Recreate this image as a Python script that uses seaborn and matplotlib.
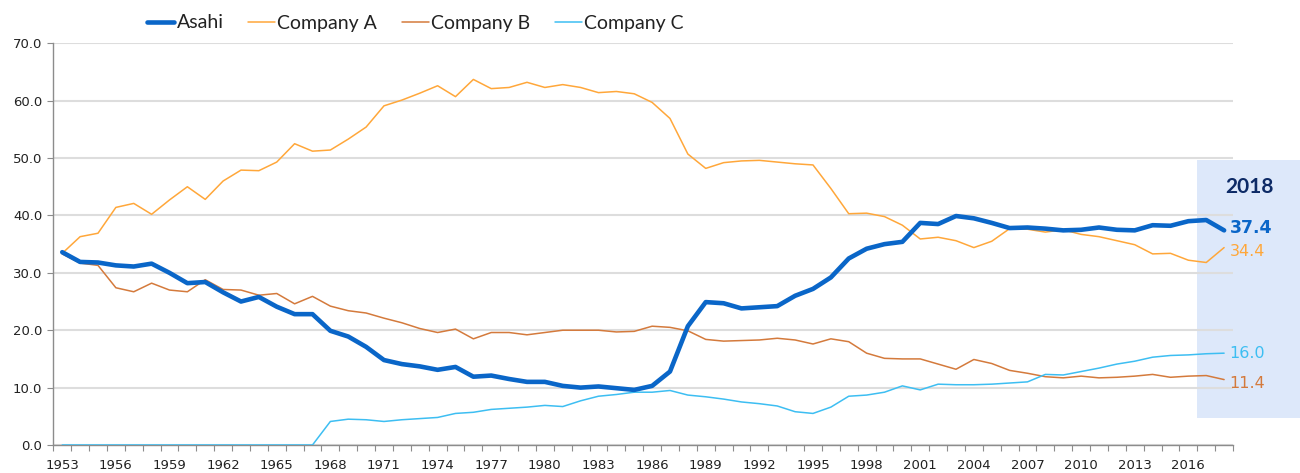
import matplotlib
matplotlib.use("Agg")
import matplotlib.pyplot as plt
from matplotlib.patches import Rectangle
from matplotlib.lines import Line2D
import seaborn as sns
import pandas as pd

years = list(range(1953, 2019))
tick_years = list(range(1953, 2017, 3))
y_ticks = [0, 10, 20, 30, 40, 50, 60, 70]

asahi = [33.6, 31.9, 31.8, 31.3, 31.1, 31.6, 30.0, 28.2, 28.4, 26.6,
         25.0, 25.8, 24.1, 22.8, 22.8, 19.9, 18.9, 17.1, 14.8, 14.1,
         13.7, 13.1, 13.6, 11.9, 12.1, 11.5, 11.0, 11.0, 10.3, 10.0,
         10.2, 9.9, 9.6, 10.3, 12.8, 20.7, 24.9, 24.7, 23.8, 24.0,
         24.2, 26.0, 27.2, 29.2, 32.5, 34.2, 35.0, 35.4, 38.7, 38.5,
         39.9, 39.5, 38.7, 37.8, 37.9, 37.7, 37.4, 37.5, 37.9, 37.5,
         37.4, 38.3, 38.2, 39.0, 39.2, 37.4]
company_a = [33.4, 36.3, 36.9, 41.4, 42.1, 40.2, 42.7, 45.0, 42.8, 46.0,
             47.9, 47.8, 49.3, 52.5, 51.2, 51.4, 53.3, 55.4, 59.1, 60.1,
             61.3, 62.6, 60.7, 63.7, 62.1, 62.3, 63.2, 62.3, 62.8, 62.3,
             61.4, 61.6, 61.2, 59.7, 56.9, 50.7, 48.2, 49.2, 49.5, 49.6,
             49.3, 49.0, 48.8, 44.7, 40.3, 40.4, 39.8, 38.3, 35.9, 36.2,
             35.6, 34.4, 35.5, 37.7, 37.6, 37.1, 37.5, 36.7, 36.3, 35.6,
             34.9, 33.3, 33.4, 32.2, 31.8, 34.4]
company_b = [33.3, 31.7, 31.3, 27.4, 26.7, 28.2, 27.0, 26.7, 28.8, 27.1,
             27.0, 26.1, 26.4, 24.6, 25.9, 24.2, 23.4, 23.0, 22.1, 21.3,
             20.3, 19.6, 20.2, 18.5, 19.6, 19.6, 19.2, 19.6, 20.0, 20.0,
             20.0, 19.7, 19.8, 20.7, 20.5, 19.9, 18.4, 18.1, 18.2, 18.3,
             18.6, 18.3, 17.6, 18.5, 18.0, 16.0, 15.1, 15.0, 15.0, 14.1,
             13.2, 14.9, 14.2, 13.0, 12.5, 11.9, 11.7, 12.0, 11.7, 11.8,
             12.0, 12.3, 11.8, 12.0, 12.1, 11.4]
company_c = [0.0, 0.0, 0.0, 0.0, 0.0, 0.0, 0.0, 0.0, 0.0, 0.0,
             0.0, 0.0, 0.0, 0.0, 0.0, 4.1, 4.5, 4.4, 4.1, 4.4,
             4.6, 4.8, 5.5, 5.7, 6.2, 6.4, 6.6, 6.9, 6.7, 7.7,
             8.5, 8.8, 9.2, 9.2, 9.5, 8.7, 8.4, 8.0, 7.5, 7.2,
             6.8, 5.8, 5.5, 6.6, 8.5, 8.7, 9.2, 10.3, 9.6, 10.6,
             10.5, 10.5, 10.6, 10.8, 11.0, 12.3, 12.2, 12.8, 13.4, 14.1,
             14.6, 15.3, 15.6, 15.7, 15.9, 16.0]

series_names = ["Asahi", "Company A", "Company B", "Company C"]
series_values = [asahi, company_a, company_b, company_c]
colors = {"Asahi": "#0A66C8", "Company A": "#FFA73A",
          "Company B": "#D47A3C", "Company C": "#3DBEF2"}
widths = {"Asahi": 3.3, "Company A": 1.1, "Company B": 1.1, "Company C": 1.1}
zorders = {"Asahi": 6, "Company A": 4, "Company B": 3, "Company C": 5}
label_fmt = {"Asahi": dict(weight="bold", size=12.5, dy=2),
             "Company A": dict(weight="normal", size=11.5, dy=-3),
             "Company B": dict(weight="normal", size=11.5, dy=-3),
             "Company C": dict(weight="normal", size=11.5, dy=0)}

df = pd.DataFrame({"Year": years * 4,
                   "Share": sum(series_values, []),
                   "Company": sum([[n] * len(years) for n in series_names], [])})

sns.set_theme(style="white")
plt.rcParams["font.family"] = ["DejaVu Sans"]

fig = plt.figure(figsize=(13, 4.73), dpi=100)
ax = fig.add_axes([0.041, 0.0592, 0.9075, 0.8493])
ax.set_facecolor("none")

# 2018 highlight box (axes coords, extends beyond plot)
ax.add_patch(Rectangle((0.9695, 0.0672), 0.09, 0.643, transform=ax.transAxes,
                       facecolor="#DDE8FA", edgecolor="none", zorder=0.1,
                       clip_on=False))

for name in series_names:
    sub = df[df["Company"] == name]
    sns.lineplot(data=sub, x="Year", y="Share", ax=ax, color=colors[name],
                 linewidth=widths[name], zorder=zorders[name], legend=False,
                 solid_joinstyle="round")

ax.set_xlim(years[0] - 0.5, years[-1] + 0.5)
ax.set_ylim(0, 70)
ax.set_yticks(y_ticks)
ax.set_yticklabels([f"{v:.1f}" for v in y_ticks], fontsize=9.5, color="#222222")
ax.set_xticks(tick_years)
ax.set_xticklabels([str(y) for y in tick_years], fontsize=9.5, color="#222222")
ax.set_xticks([y + 0.5 for y in [years[0] - 1] + years], minor=True)
ax.tick_params(axis="x", which="major", length=0, pad=10)
ax.tick_params(axis="x", which="minor", length=4, width=0.8, color="#8C8C8C",
               direction="out", bottom=True)
ax.tick_params(axis="y", which="major", length=4, width=0.8, color="#8C8C8C",
               direction="out", left=True, pad=4)
ax.set_xlabel("")
ax.set_ylabel("")
ax.yaxis.grid(True, color="#DDDDDD", linewidth=1.5)
ax.xaxis.grid(False)
ax.set_axisbelow(True)
for s in ["top", "right"]:
    ax.spines[s].set_visible(False)
for s in ["left", "bottom"]:
    ax.spines[s].set_color("#8C8C8C")
    ax.spines[s].set_linewidth(1.0)

# end labels
for name, vals in zip(series_names, series_values):
    f = label_fmt[name]
    ax.annotate(f"{vals[-1]:.1f}", xy=(years[-1], vals[-1]),
                xytext=(4, f["dy"]), textcoords="offset points",
                ha="left", va="center", fontsize=f["size"],
                fontweight=f["weight"], color=colors[name],
                annotation_clip=False, zorder=8)

ax.annotate(str(years[-1]), xy=(years[-1], 0), xycoords=("data", "axes fraction"),
            xytext=(1250, 473 - 187), textcoords="figure pixels",
            ha="center", va="center", fontsize=15, fontweight="bold",
            color="#0D2A66", family=["Lato", "DejaVu Sans"], annotation_clip=False)

handles = [Line2D([0], [0], color=colors[n], linewidth=widths[n]) for n in series_names]
leg = fig.legend(handles, series_names, loc="center left",
                 bbox_to_anchor=(147 / 1300, 1 - 23 / 473), ncol=4, frameon=False,
                 prop={"family": ["Lato", "DejaVu Sans"], "size": 14},
                 handlelength=1.4, handletextpad=0.12, columnspacing=1.25,
                 borderaxespad=0, borderpad=0)
for t in leg.get_texts():
    t.set_color("#222222")

fig.savefig("out.png", dpi=100)
